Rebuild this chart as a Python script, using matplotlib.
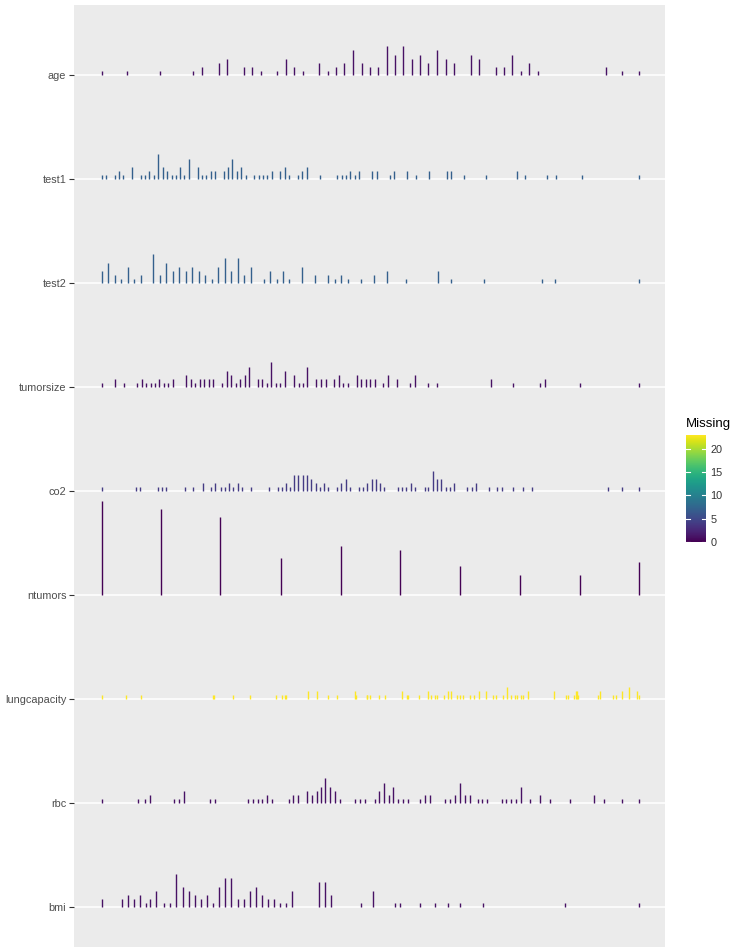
import numpy as np
import matplotlib.pyplot as plt
import matplotlib as mpl

plt.rcParams['font.family'] = ['Liberation Sans', 'DejaVu Sans']

# variables from top to bottom
variables = ['age', 'test1', 'test2', 'tumorsize', 'co2', 'ntumors', 'lungcapacity', 'rbc', 'bmi']
missing = [1, 7, 7, 1, 4, 0, 23, 1, 1]

# spike positions are the scaled values (0-1), counts are how often each value occurs
# positions read in pixels (0 -> 101.7, 1 -> 639) and rescaled below
age_px = [101.7, 126.7, 160, 193.3, 202.3, 219, 227.3, 244, 252.3, 260.7, 277.3, 286, 294.3, 302.7,
          319.3, 327.7, 336, 344.3, 353.3, 361.7, 370, 378.3, 386.7, 395, 403.3, 411.7, 420, 428.3,
          436.7, 445.7, 454, 470.7, 479, 495.7, 504, 512.3, 521, 529.3, 537.7, 605.7, 622.3, 639]
age_n = [1, 1, 1, 1, 2, 3, 4, 2, 2, 1, 1, 4, 2, 1, 3, 1, 2, 3, 6, 3, 2, 2, 7, 5, 7, 4, 5, 3,
         6, 4, 3, 5, 4, 2, 2, 5, 1, 3, 1, 2, 1, 1]

test1_px = [101.7, 105.7, 115, 119, 123.3, 131.7, 140.7, 145.3, 149.3, 154, 158.3, 162.7, 167, 171.7,
            175.7, 180, 184.3, 188.7, 197.7, 202, 206.3, 210.7, 215, 223.7, 228, 232.3, 236.7, 241,
            245.7, 254.3, 258.7, 263, 267.3, 271.7, 280.3, 284.7, 289.3, 298, 302.3, 306.7, 319.7,
            337.3, 341.7, 346, 350.3, 354.7, 359, 372.3, 376.7, 390, 394.3, 407.3, 416, 429, 446.7,
            451, 464, 486, 516.7, 525.3, 547, 555.7, 582, 639]
test1_n = [1, 1, 1, 2, 1, 3, 1, 1, 2, 1, 6, 3, 2, 1, 1, 3, 1, 5, 3, 1, 1, 2, 2, 2, 3, 5, 2, 3,
           1, 1, 1, 1, 1, 2, 2, 3, 1, 1, 2, 3, 1, 1, 1, 1, 2, 1, 2, 2, 2, 1, 2, 2, 1, 2, 2,
           2, 1, 1, 2, 1, 1, 1, 1, 1]

test2_px = [101.7, 108.3, 114.7, 121, 127.7, 134, 140.7, 153.3, 160, 166.3, 172.7, 179.3, 185.7, 192.3,
            198.7, 205, 211.7, 218, 224.7, 231, 237.7, 244, 250.7, 263.7, 270, 276.7, 283, 289.3,
            302.3, 315.3, 328.3, 334.7, 341.3, 347.7, 360.7, 373.7, 386.7, 406, 438.3, 451, 484,
            542, 555, 639]
test2_n = [3, 5, 2, 1, 4, 1, 2, 7, 2, 5, 3, 4, 3, 4, 3, 2, 1, 4, 6, 3, 6, 2, 4, 1, 3, 1, 3, 1,
           4, 2, 2, 1, 2, 1, 1, 2, 3, 1, 3, 1, 1, 1, 1, 1]

tumorsize_px = [101.7, 115, 124, 137.3, 141.7, 146, 150.7, 155, 159.3, 164, 168.3, 173, 186.3, 190.7,
                195.3, 199.7, 204, 208.7, 213.3, 222.3, 226.7, 231.3, 235.7, 240, 244.7, 249, 258,
                262.3, 266.7, 271.3, 276, 280.3, 285, 294, 298.7, 303, 307.3, 316.3, 321, 325.7,
                334.3, 339, 343.3, 347.7, 356.7, 361, 365.7, 370, 374.7, 383.3, 388, 396.7, 410.3,
                415, 428.3, 437.3, 490.7, 513.3, 540.3, 544.7, 580.3, 639]
tumorsize_n = [1, 2, 1, 1, 2, 1, 1, 1, 2, 1, 1, 2, 3, 2, 1, 2, 2, 2, 2, 1, 4, 3, 1, 2, 3, 5, 2,
               2, 1, 6, 1, 1, 4, 3, 1, 1, 5, 2, 2, 2, 2, 3, 1, 1, 3, 2, 2, 2, 2, 1, 3, 2, 1,
               3, 1, 1, 2, 1, 1, 2, 1, 1]

co2_px = [101.7, 136, 140, 158, 162, 166, 185, 193, 203, 211, 215, 221, 225, 229, 233, 238, 242, 251,
          269, 278, 282, 286, 290, 294, 298, 303, 307, 311, 316, 320, 324, 328, 337, 341, 346, 350,
          359, 363, 367, 372, 376, 380, 384, 398, 402, 406, 411, 415, 425, 428, 433, 437, 441, 446,
          450, 454, 467, 472, 476, 489, 497, 502, 513, 523, 532, 608, 622, 639]
co2_n = [1, 1, 1, 1, 1, 1, 1, 1, 2, 1, 2, 1, 1, 2, 1, 2, 1, 1, 1, 1, 1, 2, 1, 4, 4, 4, 4, 3,
         2, 1, 2, 1, 1, 2, 3, 1, 1, 1, 2, 3, 3, 2, 1, 1, 1, 1, 2, 1, 1, 1, 5, 3, 3, 1, 1, 2,
         1, 1, 2, 1, 1, 1, 1, 1, 1, 1, 1, 1]

ntumors_px = [101.7, 161, 220, 281, 341, 400, 460, 520, 580, 639]
ntumors_n = [23, 21, 19, 9, 12, 11, 7, 5, 5, 8]

lungcapacity_px = [101.7, 126, 141, 213.3, 214.3, 232.7, 249.7, 275.7, 281.7, 285, 286.3, 307.7, 316.7,
                   327.7, 336.7, 354.7, 356, 366.7, 366.7, 370, 379.3, 385.3, 402.3, 406.7, 408.3,
                   419, 428.3, 431.3, 434.7, 437.3, 443.7, 448.3, 451, 457.3, 460.3, 463.3, 469.7,
                   474, 478.7, 486.3, 493.3, 496.3, 503.3, 506.7, 510.7, 514.7, 516.7, 520.7, 523.3,
                   528, 554, 565.7, 568.3, 574, 575.7, 576.7, 578, 598.3, 600, 613.3, 616, 622,
                   629, 636.7, 639]
lungcapacity_n = [1, 1, 1, 1, 1, 1, 1, 1, 1, 1, 1, 2, 2, 1, 1, 2, 1, 1, 1, 1, 1, 1, 2, 1, 1,
                  1, 2, 1, 1, 1, 1, 2, 2, 1, 1, 1, 1, 1, 2, 2, 1, 1, 1, 3, 1, 1, 1, 1, 1,
                  2, 2, 1, 1, 1, 2, 2, 1, 1, 2, 1, 1, 2, 3, 2, 1]

rbc_px = [101.7, 138, 145, 150, 174, 179, 184, 210, 215, 248, 253, 258, 262, 267, 272, 289, 293, 298,
          307, 312, 317, 321, 325, 330, 335, 340, 355, 360, 365, 375, 379, 384, 389, 393, 398, 403,
          408, 420, 425, 430, 445, 450, 455, 460, 465, 470, 478, 482, 487, 502, 506, 511, 516, 521,
          530, 540, 550, 570, 594, 604, 622, 639]
rbc_n = [1, 1, 1, 2, 1, 1, 3, 1, 1, 1, 1, 1, 1, 2, 1, 1, 2, 2, 3, 2, 3, 4, 6, 4, 3, 1, 1, 1, 1,
         1, 3, 5, 2, 4, 1, 1, 1, 1, 2, 2, 1, 1, 2, 5, 2, 2, 1, 1, 1, 1, 1, 1, 1, 4, 1, 2, 1, 1,
         2, 1, 1, 1]

bmi_px = [101.7, 122, 128, 134, 140, 146, 150, 156, 164, 170, 176, 183, 189, 195, 201, 207, 213, 219,
          225, 231, 238, 244, 250, 256, 262, 268, 274, 280, 286, 292, 319, 325, 331, 361, 373, 395,
          400, 420, 435, 448, 460, 483, 565, 639]
bmi_n = [2, 2, 3, 2, 3, 1, 2, 4, 1, 1, 8, 5, 4, 3, 2, 3, 1, 5, 7, 7, 2, 2, 4, 5, 3, 2, 2, 1, 1,
         4, 6, 6, 3, 1, 4, 1, 1, 1, 1, 1, 1, 1, 1, 1]

positions = [age_px, test1_px, test2_px, tumorsize_px, co2_px, ntumors_px, lungcapacity_px, rbc_px, bmi_px]
counts = [age_n, test1_n, test2_n, tumorsize_n, co2_n, ntumors_n, lungcapacity_n, rbc_n, bmi_n]

fig = plt.figure(figsize=(7.34, 9.49), dpi=100)
ax = fig.add_axes([74 / 734, 2 / 949, 591 / 734, 942 / 949])
ax.set_facecolor('#EBEBEB')

cmap = mpl.colormaps['viridis']
norm = mpl.colors.Normalize(vmin=0, vmax=max(missing))
scale = 0.0393  # height of one count in row units

nvar = len(variables)
for i, var in enumerate(variables):
    base = nvar - i
    x = (np.array(positions[i]) - 101.7) / (639 - 101.7)
    h = np.array(counts[i]) * scale
    ax.axhline(base, color='white', lw=1.1, zorder=1)
    ax.vlines(x, base, base + h, color=cmap(norm(missing[i])), lw=1.0, zorder=2)

ax.set_xlim(-0.0516, 1.048)
ax.set_ylim(1 - 40 / 104, nvar + 70 / 104)
ax.set_yticks(np.arange(nvar, 0, -1))
ax.set_yticklabels(variables)
ax.set_xticks([])
ax.tick_params(axis='y', length=3.5, width=0.8, color='#333333', labelcolor='#4D4D4D',
               labelsize=7.8, pad=2)
for s in ax.spines.values():
    s.set_visible(False)

# colourbar legend
cax = fig.add_axes([686 / 734, (949 - 541.7) / 949, 20 / 734, 106.7 / 949])
cb = mpl.colorbar.ColorbarBase(cax, cmap=cmap, norm=norm, ticks=[0, 5, 10, 15, 20])
cb.outline.set_visible(False)
cax.tick_params(length=0, labelsize=7.8, labelcolor='#333333', pad=3)
for t in [0, 5, 10, 15, 20]:
    cax.plot([0, 0.2], [t, t], color='white', lw=0.8, transform=cax.get_yaxis_transform())
    cax.plot([0.8, 1], [t, t], color='white', lw=0.8, transform=cax.get_yaxis_transform())
fig.text(686 / 734, 1 - 424 / 949, 'Missing', fontsize=9.5, color='black', va='center', ha='left')

fig.savefig('out.png', dpi=100)
